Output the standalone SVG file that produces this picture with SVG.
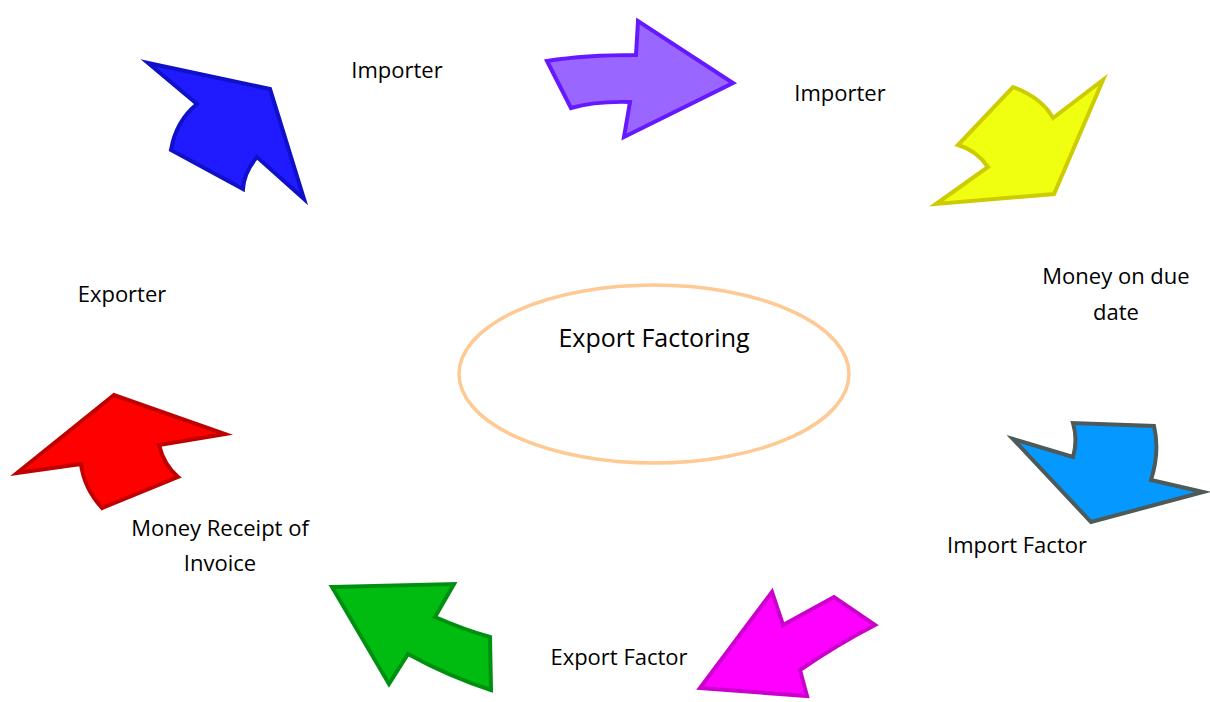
<svg xmlns="http://www.w3.org/2000/svg" width="1210" height="702" viewBox="0 0 1210 702">
  <style>
    .lbl { font-family: "Open Sans", "Liberation Sans", sans-serif; font-size: 22px; fill: #000; }
    .title { font-family: "Open Sans", "Liberation Sans", sans-serif; font-size: 25px; fill: #000; }
    .arrow { stroke-width: 4; stroke-linejoin: miter; stroke-miterlimit: 10; }
  </style>
  <rect width="1210" height="702" fill="#ffffff"/>

  <!-- centre ellipse -->
  <g id="center">
    <ellipse cx="654" cy="374" rx="195" ry="89" fill="none" stroke="#ffc994" stroke-width="3.5"/>
    <text class="title" x="654" y="347" text-anchor="middle">Export Factoring</text>
  </g>

  <!-- cycle arrows -->
  <g id="connectors">
    <path id="arrow-blue" class="arrow" fill="#1f1aff" stroke="#1010c8"
          d="M148,63 L270,89 L304,199 L257,157 Q244,172 243,189 L171,150 Q176,121 197,104 Z"/>
    <path id="arrow-purple" class="arrow" fill="#9966ff" stroke="#6619ff"
          d="M547,61 Q585,55 636,55 L638,21 L733,83 L624,137 L630,102 Q595,101 571,108 Z"/>
    <path id="arrow-yellow" class="arrow" fill="#f0ff0f" stroke="#cccc00"
          d="M1013,87 Q1042,98 1053,118 L1103,80 L1054,194 L936,204 L988,167 Q976,150 958,145 Z"/>
    <path id="arrow-lightblue" class="arrow" fill="#0599ff" stroke="#4d5a5a"
          d="M1013,439 L1073,457 Q1078,440 1073,423 L1154,426 Q1160,452 1151,480 L1203,492 L1091,522 Z"/>
    <path id="arrow-magenta" class="arrow" fill="#ff00ff" stroke="#cc00cc"
          d="M772,592 L783,625 L834,597 L875,625 Q838,644 800,670 L807,696 L700,688 Z"/>
    <path id="arrow-green" class="arrow" fill="#00bb10" stroke="#009010"
          d="M332,587 L454,584 L435,617 Q465,630 490,637 L491,690 Q450,677 408,654 L389,684 Z"/>
    <path id="arrow-red" class="arrow" fill="#ff0000" stroke="#c00000"
          d="M17,473 L114,395 L225,434 L159,445 Q164,465 178,477 L102,508 Q84,488 81,464 Z"/>
  </g>

  <!-- stage labels -->
  <g id="label-importer-1"><text class="lbl" x="397" y="78" text-anchor="middle">Importer</text></g>
  <g id="label-importer-2"><text class="lbl" x="840" y="101" text-anchor="middle">Importer</text></g>
  <g id="label-money-due">
    <text class="lbl" x="1116" y="284" text-anchor="middle">Money on due</text>
    <text class="lbl" x="1116" y="320" text-anchor="middle">date</text>
  </g>
  <g id="label-import-factor"><text class="lbl" x="1017" y="553" text-anchor="middle">Import Factor</text></g>
  <g id="label-export-factor"><text class="lbl" x="619" y="665" text-anchor="middle">Export Factor</text></g>
  <g id="label-money-receipt">
    <text class="lbl" x="220" y="536" text-anchor="middle">Money Receipt of</text>
    <text class="lbl" x="220" y="571" text-anchor="middle">Invoice</text>
  </g>
  <g id="label-exporter"><text class="lbl" x="122" y="302" text-anchor="middle">Exporter</text></g>
</svg>
